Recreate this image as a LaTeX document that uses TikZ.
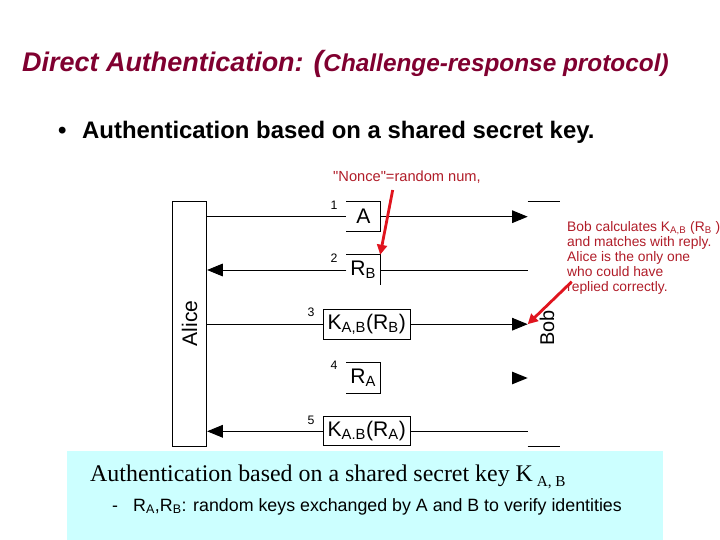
\documentclass[tikz,border=0pt]{standalone}
\usepackage{fontspec}
\setmainfont{Liberation Sans}
\newfontfamily\timesfont{Liberation Serif}
\usetikzlibrary{positioning,arrows.meta,calc}
\definecolor{titlered}{HTML}{800030}
\definecolor{notered}{HTML}{B01C28}
\definecolor{pointred}{HTML}{E0141E}
\definecolor{panelcyan}{HTML}{CCFFFF}
\tikzset{
    every node/.style={inner sep=0pt},
    titletext/.style={anchor=base west,text=titlered,font=\bfseries\itshape\fontsize{23}{27}\selectfont},
    bullettext/.style={anchor=base west,font=\bfseries\fontsize{20.4}{24}\selectfont},
    party/.style={draw,line width=0.8pt,font=\fontsize{18}{21}\selectfont},
    msgbox/.style={font=\fontsize{18}{21}\selectfont},
    msgnum/.style={font=\fontsize{10.5}{12}\selectfont},
    border/.style={line width=0.8pt},
    msg/.style={line width=0.8pt},
    tip/.style={-{Triangle[length=0.47cm,width=0.38cm]}},
    pointer/.style={draw=pointred,line width=2.4pt,-{Triangle[length=0.3cm,width=0.3cm]}},
    note/.style={text=notered,font=\fontsize{11.8}{12.8}\selectfont,align=left},
    paneltext/.style={anchor=base west}
}
\begin{document}
\begin{tikzpicture}[x=0.03cm,y=-0.03cm]
\useasboundingbox (0,0) rectangle (720,540);

% heading
\node[titletext] (title) at (22,72) {Direct Authentication: {\fontsize{25}{27}\selectfont(}{\fontsize{20.8}{24}\selectfont Challenge-response protocol)}};
\node[bullettext] (dot) at (58,139) {\textbullet};
\node[bullettext] (point) at (82,139) {Authentication based on a shared secret key.};

% the two parties
\node[party,minimum width=1.03cm,minimum height=7.35cm] (alice) at (189.5,323.5) {\rotatebox{90}{Alice}};
\node[font=\fontsize{17}{20}\selectfont] (bob) at (547,328) {\rotatebox{90}{Bob}};
\coordinate (bobtop) at (527.7,201);
\coordinate (bobbot) at (527.7,446);
\draw[border] (bobtop) -- ++(32.3,0);
\draw[border] (bobbot) -- ++(32.3,0);

% messages
\node[msgbox,minimum width=1cm,minimum height=0.9cm] (m1) at (363.3,216.7) {A};
\node[msgbox,minimum width=1cm,minimum height=0.9cm] (m2) at (363.3,270) {R\textsubscript{B}};
\node[msgbox,draw,line width=0.8pt,minimum width=2.6cm,minimum height=0.89cm] (m3) at (366.7,324.2) {K\textsubscript{A,B}(R\textsubscript{B})};
\node[msgbox,minimum width=1cm,minimum height=0.92cm] (m4) at (363.3,378) {R\textsubscript{A}};
\node[msgbox,draw,line width=0.8pt,minimum width=2.6cm,minimum height=0.88cm] (m5) at (366.7,431.3) {K\textsubscript{A.B}(R\textsubscript{A})};

\draw[border] (m1.north west) -- (m1.north east) -- (m1.south east) -- (m1.south west);
\draw[border] (m2.north west) -- (m2.north east) -- (m2.south east);
\draw[border] (m4.north west) -- (m4.north east) -- (m4.south east) -- (m4.south west);

\node[msgnum] (n1) at (334,205) {1};
\node[msgnum] (n2) at (334,258) {2};
\node[msgnum] (n3) at (311,312) {3};
\node[msgnum] (n4) at (334,365) {4};
\node[msgnum] (n5) at (311,420) {5};

\draw[msg] (alice.east |- m1) -- (m1.west);
\draw[msg,tip] (m1.east) -- (bobtop |- m1);
\draw[msg,tip] (m2.west) -- (alice.east |- m2);
\draw[msg] (m2.east) -- (bobtop |- m2);
\draw[msg] (alice.east |- m3) -- (m3.west);
\draw[msg,tip] (m3.east) -- (bobtop |- m3);
\coordinate (bob4) at (bobtop |- m4);
\fill (bob4) -- ++(-15.5,-6.3) -- ++(0,12.6) -- cycle;
\draw[msg,tip] (m5.west) -- (alice.east |- m5);
\draw[msg] (m5.east) -- (bobtop |- m5);

% remarks in red
\node[anchor=base west,text=notered,font=\fontsize{12.5}{15}\selectfont] (nonce) at (333,182) {\textquotedbl Nonce\textquotedbl=random num,};
\coordinate (noncetail) at (392.7,190);
\draw[pointer] (noncetail) -- (m2.north east);
\node[note,anchor=north west] (bobnote) at (567,221.5) {Bob calculates K\textsubscript{A,B} (R\textsubscript{B} )\\and matches with reply.\\Alice is the only one\\who could have\\replied correctly.};
\coordinate (notetail) at (571.7,281.7);
\draw[pointer] (notetail) -- (bobtop |- m3);

% summary panel
\fill[panelcyan] (67,451) rectangle (663,540);
\node[paneltext,font=\timesfont\fontsize{20.4}{24}\selectfont] (summary) at (90,482) {Authentication based on a shared secret key K\,{\fontsize{13}{15}\selectfont\raisebox{-4pt}{A, B}}};
\node[paneltext,font=\fontsize{15.2}{18}\selectfont] (dash) at (112,511) {-};
\node[paneltext,font=\fontsize{15.2}{18}\selectfont] (detail) at (133,511) {R\textsubscript{A},R\textsubscript{B}: random keys exchanged by A and B to verify identities};
\end{tikzpicture}
\end{document}
